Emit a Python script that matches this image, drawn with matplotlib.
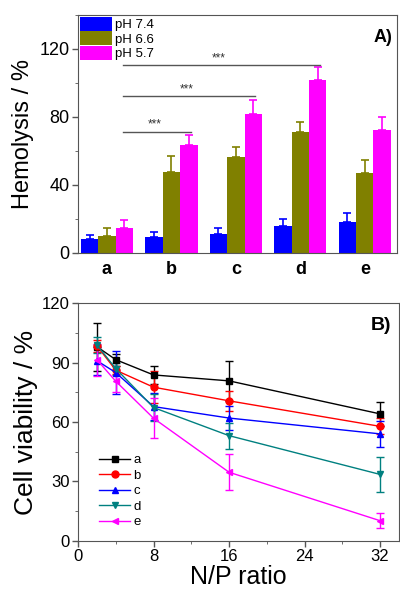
import numpy as np
import matplotlib
matplotlib.use("Agg")
import matplotlib.pyplot as plt
from matplotlib.lines import Line2D

plt.rcParams['font.family'] = ['Liberation Sans', 'DejaVu Sans']

# panel A: hemolysis
groups = ['a', 'b', 'c', 'd', 'e']
ph_labels = ['pH 7.4', 'pH 6.6', 'pH 5.7']
hemo_74 = [8.2, 9.2, 11.2, 16.1, 18.0]
hemo_66 = [10.2, 47.6, 56.7, 71.0, 46.9]
hemo_57 = [14.5, 63.7, 81.6, 102.0, 72.2]
err_74 = [2.6, 3.2, 3.3, 4.1, 5.3]
err_66 = [4.3, 9.3, 5.7, 5.9, 8.0]
err_57 = [4.9, 5.5, 8.4, 7.2, 7.8]
sig_ends = [1, 2, 3]          # magenta bar of "a" compared against these
sig_heights = [71.4, 92.2, 110.4]

# panel B: cell viability
np_ratio = [2, 4, 8, 16, 32]
via_a = [98.1, 91.5, 83.8, 80.8, 64.1]
via_b = [98.5, 86.2, 77.6, 70.7, 57.8]
via_c = [91.0, 85.0, 67.8, 62.0, 54.0]
via_d = [99.0, 87.0, 67.3, 53.1, 33.5]
via_e = [91.5, 80.6, 61.9, 34.6, 10.1]
verr_a = [12.2, 3.0, 4.6, 10.0, 6.0]
verr_b = [3.0, 2.0, 8.0, 5.0, 4.0]
verr_c = [7.0, 11.0, 7.0, 6.0, 6.5]
verr_d = [4.0, 3.0, 7.0, 6.5, 9.0]
verr_e = [8.0, 5.5, 10.0, 9.0, 3.7]

spine_col = '#555555'

fig = plt.figure(figsize=(4.0, 5.93), dpi=100)

# ---------- A ----------
ax1 = fig.add_axes([0.195, 0.5734, 0.7975, 0.4013])
x = np.arange(len(groups))
w = 0.27
cols = ['#0000ff', '#808000', '#ff00ff']
for i, (vals, errs, c, lab) in enumerate(zip([hemo_74, hemo_66, hemo_57],
                                             [err_74, err_66, err_57], cols, ph_labels)):
    pos = x + (i - 1) * w
    ax1.bar(pos, vals, w, color=c, label=lab, zorder=2)
    ax1.errorbar(pos, vals, yerr=[np.zeros(len(errs)), errs], fmt='none',
                 ecolor=c, elinewidth=1.2, capsize=3, capthick=1.2, zorder=1)

x0 = x[0] + w
for end, h in zip(sig_ends, sig_heights):
    x1 = x[end] + w + 0.03
    ax1.plot([x0 - 0.02, x1], [h, h], color='#555555', lw=1)
    ax1.text((x0 + x1) / 2 - 0.05, h + 0.5, '***', ha='center', va='bottom',
             fontsize=8.5, color='#333333')

ax1.set_xlim(-0.45, 4.5)
ax1.set_ylim(0, 140)
ax1.set_yticks([0, 40, 80, 120])
ax1.set_yticks([20, 60, 100, 140], minor=True)
ax1.set_xticks(x)
ax1.set_xticklabels(groups, fontsize=13, fontweight='bold')
ax1.tick_params(axis='x', length=0, pad=6)
ax1.tick_params(axis='y', labelsize=13, length=4, width=1, color=spine_col, pad=2)
ax1.tick_params(axis='y', which='minor', length=2, color=spine_col)
ax1.set_ylabel('Hemolysis / %', fontsize=17, labelpad=4)
for s in ax1.spines.values():
    s.set_color(spine_col)
ax1.text(0.985, 0.905, 'A)', transform=ax1.transAxes, ha='right', va='center',
         fontsize=13, fontweight='bold')
ax1.legend(loc='upper left', frameon=False, fontsize=9.5, handlelength=2.4,
           handleheight=1.25, labelspacing=0.0, handletextpad=0.25,
           borderaxespad=0.1, borderpad=0.05)

# ---------- B ----------
ax2 = fig.add_axes([0.195, 0.0882, 0.8025, 0.4003])
series = [('a', via_a, verr_a, 'black', 's'),
          ('b', via_b, verr_b, '#ff0000', 'o'),
          ('c', via_c, verr_c, '#0000ff', '^'),
          ('d', via_d, verr_d, '#008080', 'v'),
          ('e', via_e, verr_e, '#ff00ff', '<')]
handles = []
for lab, vals, errs, c, m in series:
    ax2.errorbar(np_ratio, vals, yerr=errs, color=c, marker=m, markersize=5,
                 lw=1, elinewidth=1, capsize=3, capthick=1)
    handles.append(Line2D([], [], color=c, marker=m, markersize=5, lw=1, label=lab))

ax2.set_xlim(0, 34)
ax2.set_ylim(0, 120)
ax2.set_xticks([0, 8, 16, 24, 32])
ax2.set_xticks([4, 12, 20, 28], minor=True)
ax2.set_yticks([0, 30, 60, 90, 120])
ax2.set_yticks([15, 45, 75, 105], minor=True)
ax2.tick_params(labelsize=12, length=4, width=1, color=spine_col, pad=2)
ax2.tick_params(which='minor', length=2, color=spine_col)
ax2.set_xlabel('N/P ratio', fontsize=18, labelpad=1)
ax2.set_ylabel('Cell viability / %', fontsize=19, labelpad=3)
for s in ax2.spines.values():
    s.set_color(spine_col)
ax2.text(0.975, 0.905, 'B)', transform=ax2.transAxes, ha='right', va='center',
         fontsize=14, fontweight='bold')
ax2.legend(handles=handles, loc='lower left', bbox_to_anchor=(0.05, 0.03),
           frameon=False, fontsize=9.5, handlelength=2.3, labelspacing=0.25,
           handletextpad=0.3, borderaxespad=0.0)

fig.savefig('out.png', dpi=100)
